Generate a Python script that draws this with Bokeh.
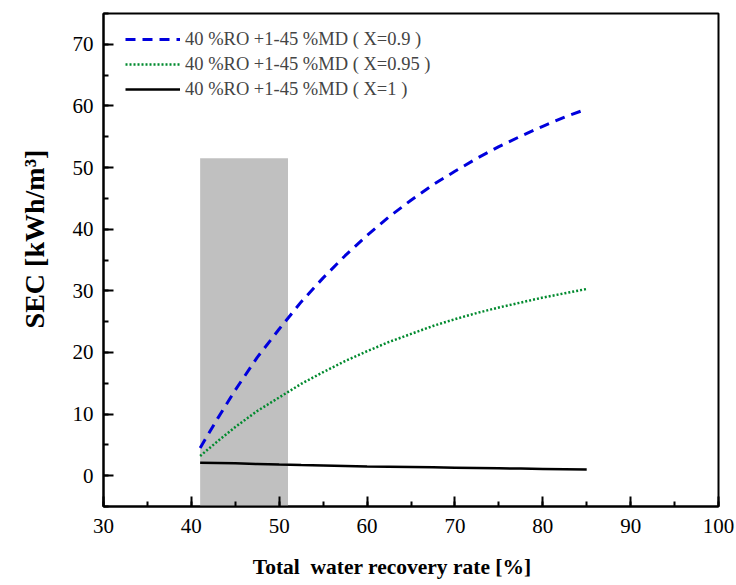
from bokeh.plotting import figure
from bokeh.embed import file_html
from bokeh.resources import INLINE
from bokeh.models import Range1d, Legend, LegendItem, SingleIntervalTicker

# Data
recovery = [41, 43, 45, 47.5, 50, 52.5, 55, 57.5, 60, 62.5, 65, 67.5, 70, 72.5, 75, 77.5, 80, 82.5, 85]
sec_x09 = [4.5, 9.3, 13.9, 19.2, 23.8, 28.2, 32.1, 35.7, 39.0, 42.0, 44.7, 47.2, 49.4, 51.5, 53.4, 55.1, 56.7, 58.2, 59.5]
sec_x095 = [3.2, 5.6, 7.9, 10.5, 12.7, 14.9, 16.8, 18.6, 20.2, 21.7, 23.0, 24.3, 25.4, 26.4, 27.3, 28.1, 28.9, 29.6, 30.3]
sec_x1 = [2.1, 2.05, 2.0, 1.9, 1.8, 1.72, 1.65, 1.58, 1.5, 1.45, 1.4, 1.35, 1.3, 1.25, 1.2, 1.15, 1.1, 1.05, 1.0]
labels = ["40 %RO +1-45 %MD ( X=0.9 )",
          "40 %RO +1-45 %MD ( X=0.95 )",
          "40 %RO +1-45 %MD ( X=1 )"]
shade_left = [41]
shade_right = [51]
shade_top = [51.5]
shade_bottom = [-5]

FONT = "Liberation Serif"

p = figure(width=736, height=585, output_backend="svg", toolbar_location=None,
           x_range=Range1d(30, 100), y_range=Range1d(-5, 75),
           min_border_left=103, min_border_right=18, min_border_top=13, min_border_bottom=79)
p.outline_line_color = "black"
p.outline_line_width = 2
p.grid.visible = False
p.background_fill_color = "white"

p.quad(left=shade_left, right=shade_right, top=shade_top, bottom=shade_bottom,
       fill_color="#c0c0c0", line_color=None)

r1 = p.line(recovery, sec_x09, line_color="#0000dd", line_width=3, line_dash="10 7")
r2 = p.line(recovery, sec_x095, line_color="#008a2e", line_width=2.5, line_dash="2 2")
r3 = p.line(recovery, sec_x1, line_color="black", line_width=2.5)

legend = Legend(items=[LegendItem(label=labels[0], renderers=[r1]),
                       LegendItem(label=labels[1], renderers=[r2]),
                       LegendItem(label=labels[2], renderers=[r3])],
                location=(22, 405), border_line_color=None, background_fill_alpha=0,
                label_text_font=FONT, label_text_font_size="18.5px",
                glyph_width=55, glyph_height=24, label_height=24, spacing=1,
                label_standoff=5, padding=0, margin=0)
p.add_layout(legend)

for ax in (p.xaxis[0], p.yaxis[0]):
    ax.major_tick_in = 10
    ax.major_tick_out = 0
    ax.minor_tick_in = 5
    ax.minor_tick_out = 0
    ax.axis_line_width = 2
    ax.major_tick_line_width = 2
    ax.minor_tick_line_width = 2
    ax.major_label_text_font = FONT
    ax.major_label_text_font_size = "21px"
    ax.major_label_text_color = "black"
    ax.axis_label_text_font = FONT
    ax.axis_label_text_font_style = "bold"
    ax.axis_label_text_color = "black"

p.xaxis[0].axis_label_text_font_size = "21.5px"
p.yaxis[0].axis_label_text_font_size = "28px"
p.xaxis[0].ticker = SingleIntervalTicker(interval=10, num_minor_ticks=2)
p.yaxis[0].ticker = SingleIntervalTicker(interval=10, num_minor_ticks=2)
p.xaxis[0].major_label_standoff = 12
p.yaxis[0].major_label_standoff = 10
p.xaxis[0].axis_label = "Total \u00a0water recovery rate [%]" + "\u00a0" * 7
p.yaxis[0].axis_label = "\u00a0\u00a0\u00a0\u00a0\u00a0\u00a0SEC [kWh/m³]"
p.xaxis[0].axis_label_standoff = 19
p.yaxis[0].axis_label_standoff = 20

open("out.html", "w").write(file_html(p, INLINE))
